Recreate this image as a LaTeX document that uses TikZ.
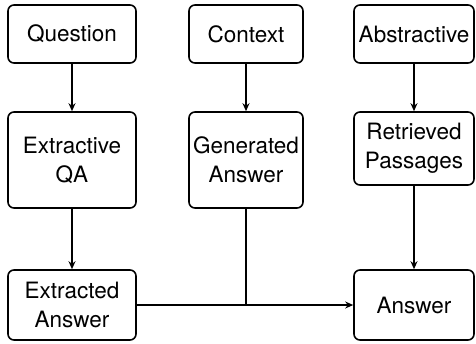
\documentclass[tikz,border=0pt]{standalone}
\usepackage{fontspec}
\setmainfont{TeX Gyre Heros}
\usetikzlibrary{arrows.meta}
\begin{document}
\begin{tikzpicture}[x=1pt,y=-1pt,
  box/.style={draw, line width=1.6pt, rounded corners=6pt, align=center, inner sep=0pt,
    font=\fontsize{22.5}{29}\selectfont},
  conn/.style={line width=1.3pt, -{Stealth[length=8pt,width=7pt]}},
  plain/.style={line width=1.3pt}]
\useasboundingbox (0,0) rectangle (476,343);
\node[box, minimum width=128pt, minimum height=58pt] (q) at (72,34) {Question};
\node[box, minimum width=114pt, minimum height=58pt] (c) at (246,34) {Context};
\node[box, minimum width=120pt, minimum height=58pt] (ab) at (414,34) {Abstractive};
\node[box, minimum width=128pt, minimum height=96pt] (eqa) at (72,160) {Extractive\\QA};
\node[box, minimum width=114pt, minimum height=96pt] (ga) at (246,160) {Generated\\Answer};
\node[box, minimum width=120pt, minimum height=73pt] (rp) at (414,148.5) {Retrieved\\Passages};
\node[box, minimum width=128pt, minimum height=70pt] (ea) at (72,305) {Extracted\\Answer};
\node[box, minimum width=120pt, minimum height=70pt] (ans) at (414,305) {Answer};
\coordinate (j) at (ga.south |- ea.east);
\draw[conn] (q) -- (eqa);
\draw[conn] (c) -- (ga);
\draw[conn] (ab) -- (rp);
\draw[conn] (eqa) -- (ea);
\draw[conn] (rp) -- (ans);
\draw[plain] (ga) -- (j);
\draw[conn] (ea) -- (ans);
\end{tikzpicture}
\end{document}
